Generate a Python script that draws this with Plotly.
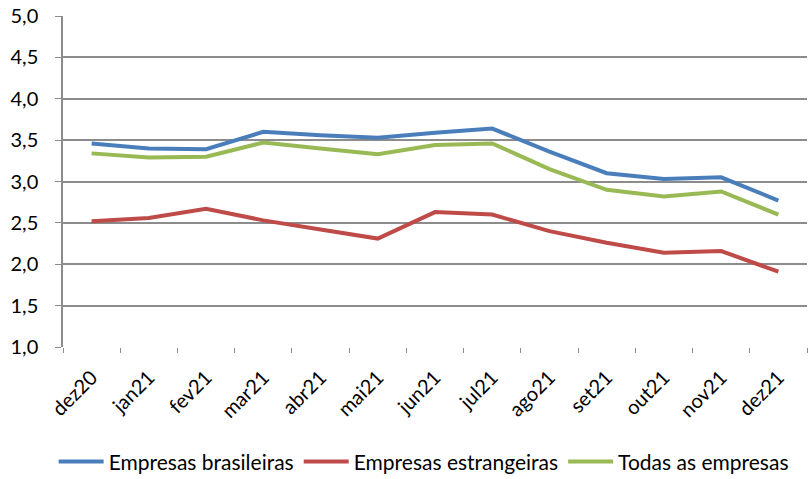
import plotly.graph_objects as go

months = ["dez20", "jan21", "fev21", "mar21", "abr21", "mai21", "jun21",
          "jul21", "ago21", "set21", "out21", "nov21", "dez21"]
brasileiras = [3.46, 3.40, 3.39, 3.60, 3.56, 3.53, 3.59, 3.64, 3.36, 3.10, 3.03, 3.05, 2.77]
estrangeiras = [2.52, 2.56, 2.67, 2.53, 2.42, 2.31, 2.63, 2.60, 2.40, 2.26, 2.14, 2.16, 1.91]
todas = [3.34, 3.29, 3.30, 3.47, 3.40, 3.33, 3.44, 3.46, 3.15, 2.90, 2.82, 2.88, 2.60]
y_ticks = [1.0, 1.5, 2.0, 2.5, 3.0, 3.5, 4.0, 4.5, 5.0]

series = [
    ("Empresas brasileiras", brasileiras, "#4A7EBB"),
    ("Empresas estrangeiras", estrangeiras, "#BE4B48"),
    ("Todas as empresas", todas, "#98B954"),
]

fig = go.Figure()
for name, vals, color in series:
    fig.add_trace(go.Scatter(x=months, y=vals, name=name, mode="lines",
                             line=dict(color=color, width=4)))

font = dict(family="Lato, 'Open Sans', sans-serif", size=20, color="#000000")
fig.update_layout(
    width=810, height=479,
    margin=dict(l=63, r=3, t=16, b=132),
    paper_bgcolor="white", plot_bgcolor="white",
    separators=",.",
    font=font,
    showlegend=True,
    legend=dict(orientation="h", xref="container", yref="container",
                x=0.523, xanchor="center", y=0.036, yanchor="middle",
                font=dict(size=21), itemwidth=45, tracegroupgap=0),
    xaxis=dict(type="category", tickangle=-45, tickson="boundaries",
               ticks="outside", ticklen=5, tickcolor="#8c8c8c", tickwidth=1,
               showgrid=False, showline=False, zeroline=False, automargin=False,
               ticklabelstandoff=14,
               range=[-0.5, len(months) - 0.5]),
    yaxis=dict(range=[1.0, 5.0], tickvals=y_ticks, tickformat=".1f",
               ticks="outside", ticklen=6, tickcolor="#8c8c8c", tickwidth=1,
               showgrid=True, gridcolor="#8c8c8c", gridwidth=1.5,
               showline=True, linecolor="#8c8c8c", linewidth=1.5,
               zeroline=False, automargin=False, ticklabelstandoff=13),
)

fig.write_html(
    "out.html",
    config={"displayModeBar": False},
    post_script="document.body.style.margin='0';document.body.style.overflow='hidden';",
)
